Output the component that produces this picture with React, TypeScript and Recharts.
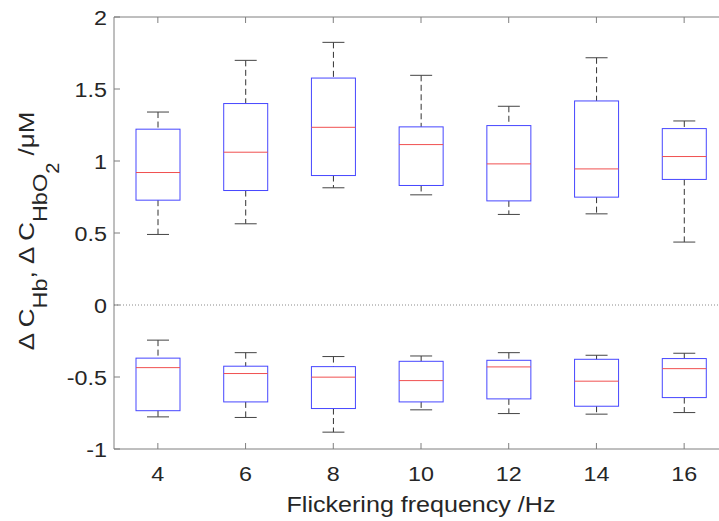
import React from "react"
import { ComposedChart, Bar, XAxis, YAxis, ReferenceLine, Label } from "recharts"

// frequencies (Hz)
const freqs = ["4", "6", "8", "10", "12", "14", "16"]

// Δ C_HbO2 (upper boxes)
const hbo2Low = [0.49, 0.564, 0.814, 0.765, 0.629, 0.633, 0.437]
const hbo2Q1 = [0.728, 0.795, 0.899, 0.83, 0.723, 0.749, 0.872]
const hbo2Med = [0.92, 1.061, 1.234, 1.114, 0.98, 0.945, 1.031]
const hbo2Q3 = [1.221, 1.399, 1.576, 1.237, 1.246, 1.417, 1.225]
const hbo2High = [1.34, 1.699, 1.824, 1.595, 1.38, 1.717, 1.278]

// Δ C_Hb (lower boxes)
const hbLow = [-0.777, -0.781, -0.883, -0.728, -0.754, -0.758, -0.747]
const hbQ1 = [-0.734, -0.673, -0.719, -0.673, -0.652, -0.703, -0.643]
const hbMed = [-0.435, -0.476, -0.501, -0.525, -0.43, -0.529, -0.442]
const hbQ3 = [-0.369, -0.425, -0.428, -0.391, -0.384, -0.377, -0.372]
const hbHigh = [-0.244, -0.331, -0.358, -0.354, -0.331, -0.349, -0.335]

const yTicks = [-1, -0.5, 0, 0.5, 1, 1.5, 2]

const data = freqs.map((f, i) => ({
  freq: f,
  hbo2: [hbo2Low[i], hbo2High[i]],
  hbo2Stats: { lo: hbo2Low[i], q1: hbo2Q1[i], med: hbo2Med[i], q3: hbo2Q3[i], hi: hbo2High[i] },
  hb: [hbLow[i], hbHigh[i]],
  hbStats: { lo: hbLow[i], q1: hbQ1[i], med: hbMed[i], q3: hbQ3[i], hi: hbHigh[i] },
}))

const AXIS = "#7f7f7f"
const TEXT = "#262626"
const FONT = "'Liberation Sans', Arial, Helvetica, sans-serif"
const STRETCH = 1.11 // the figure's lettering is a bit wider than Arial

type Stats = { lo: number; q1: number; med: number; q3: number; hi: number }

// draws one MATLAB-style box; the bar itself spans [lo, hi]
const BoxShape = (props: any) => {
  const { x, y, width, height, stats } = props as { x: number; y: number; width: number; height: number; stats: Stats }
  if (x == null || y == null || !stats) return null
  const span = stats.hi - stats.lo
  const py = (v: number) => y + ((stats.hi - v) / span) * height
  const cx = x + width / 2
  const cap = width / 4
  return (
    <g>
      <line x1={cx} x2={cx} y1={py(stats.hi)} y2={py(stats.q3)} stroke="#333" strokeDasharray="6 3.5" />
      <line x1={cx} x2={cx} y1={py(stats.q1)} y2={py(stats.lo)} stroke="#333" strokeDasharray="6 3.5" />
      <line x1={cx - cap} x2={cx + cap} y1={py(stats.hi)} y2={py(stats.hi)} stroke="#444" />
      <line x1={cx - cap} x2={cx + cap} y1={py(stats.lo)} y2={py(stats.lo)} stroke="#444" />
      <rect x={x} y={py(stats.q3)} width={width} height={py(stats.q1) - py(stats.q3)} fill="none" stroke="#4646ff" />
      <line x1={x} x2={x + width} y1={py(stats.med)} y2={py(stats.med)} stroke="#f05050" />
    </g>
  )
}

const XTick = (props: any) => {
  const { x, y, payload } = props
  return (
    <g>
      <line x1={x} x2={x} y1={y} y2={y - 6} stroke={AXIS} />
      <text
        transform={`translate(${x}, ${y + 32}) scale(${STRETCH}, 1)`}
        textAnchor="middle"
        fontSize={21}
        fill={TEXT}
        fontFamily={FONT}
      >
        {payload.value}
      </text>
    </g>
  )
}

const TopTick = (props: any) => {
  const { x, y } = props
  return <line x1={x} x2={x} y1={y} y2={y + 6} stroke={AXIS} />
}

const YTick = (props: any) => {
  const { x, y, payload } = props
  return (
    <g>
      <line x1={x} x2={x + 6} y1={y} y2={y} stroke={AXIS} />
      <text
        transform={`translate(${x - 7}, ${y + 7.5}) scale(${STRETCH}, 1)`}
        textAnchor="end"
        fontSize={21}
        fill={TEXT}
        fontFamily={FONT}
      >
        {String(payload.value)}
      </text>
    </g>
  )
}

const renderYLabel = (props: any) => {
  const vb = props.viewBox
  const cx = vb.x + 34
  const cy = vb.y + vb.height / 2 - 2
  return (
    <text
      transform={`translate(${cx}, ${cy}) scale(0.88, 1) rotate(-90)`}
      textAnchor="middle"
      fontSize={26}
      fill={TEXT}
      fontFamily={FONT}
    >
      <tspan>{"Δ C"}</tspan>
      <tspan dy={15} fontSize={23.5}>Hb</tspan>
      <tspan dy={-15}>{", Δ C"}</tspan>
      <tspan dy={15} fontSize={23.5}>HbO</tspan>
      <tspan dy={13.5} fontSize={20}>2</tspan>
      <tspan dy={-28.5}>{" /μM"}</tspan>
    </text>
  )
}

const renderXLabel = (props: any) => {
  const vb = props.viewBox
  return (
    <text
      transform={`translate(${vb.x + vb.width / 2}, ${vb.y + 63}) scale(1.14, 1)`}
      textAnchor="middle"
      fontSize={22}
      fill={TEXT}
      fontFamily={FONT}
    >
      Flickering frequency /Hz
    </text>
  )
}

export default function App() {
  return (
    <div style={{ position: "absolute", left: 0, top: 0, width: 719, height: 521, overflow: "hidden", background: "#fff" }}>
      <ComposedChart width={740} height={521} data={data} margin={{ top: 16, right: 12, left: 0, bottom: 0 }}>
        <XAxis
          xAxisId="main"
          dataKey="freq"
          height={72}
          interval={0}
          tickSize={0}
          tickMargin={0}
          tickLine={false}
          axisLine={{ stroke: AXIS }}
          tick={(p: any) => <XTick {...p} />}
        >
          <Label content={renderXLabel} />
        </XAxis>
        <XAxis
          xAxisId="top"
          dataKey="freq"
          orientation="top"
          height={1}
          interval={0}
          tickSize={0}
          tickMargin={0}
          tickLine={false}
          axisLine={{ stroke: AXIS }}
          tick={(p: any) => <TopTick {...p} />}
        />
        <XAxis xAxisId="aux" dataKey="freq" hide height={0} />
        <YAxis
          type="number"
          domain={[-1, 2]}
          allowDataOverflow
          ticks={yTicks}
          width={114}
          interval={0}
          tickSize={0}
          tickMargin={0}
          tickLine={false}
          axisLine={{ stroke: AXIS }}
          tick={(p: any) => <YTick {...p} />}
        >
          <Label content={renderYLabel} />
        </YAxis>
        <ReferenceLine xAxisId="main" y={0} stroke="#8a8a8a" strokeDasharray="1 2" />
        <Bar
          xAxisId="main"
          dataKey="hbo2"
          barSize={44}
          isAnimationActive={false}
          shape={(p: any) => <BoxShape {...p} stats={p.payload.hbo2Stats} />}
        />
        <Bar
          xAxisId="aux"
          dataKey="hb"
          barSize={44}
          isAnimationActive={false}
          shape={(p: any) => <BoxShape {...p} stats={p.payload.hbStats} />}
        />
      </ComposedChart>
    </div>
  )
}
